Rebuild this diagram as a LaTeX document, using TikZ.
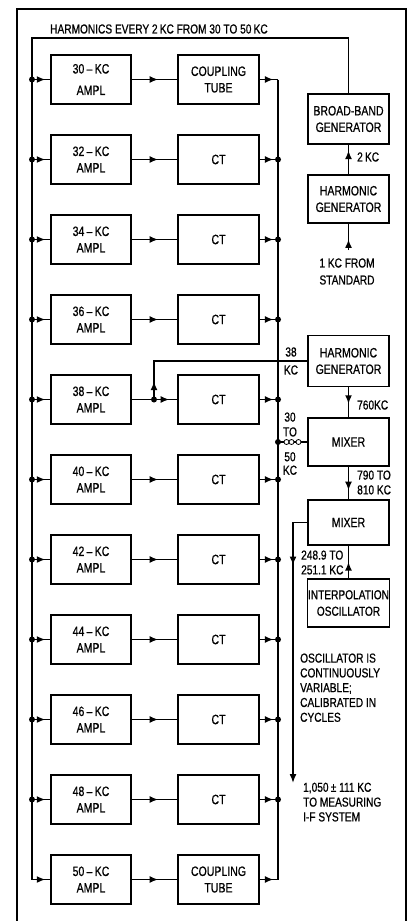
\documentclass[tikz,border=0pt]{standalone}
\usepackage{fontspec}
\newfontfamily\lbl[FakeStretch=0.78,FakeBold=0.7]{Liberation Sans}
\usetikzlibrary{arrows.meta,decorations.markings}
\begin{document}
\begin{tikzpicture}[x=1pt,y=-1pt,
  box/.style={draw,line width=1.1pt,minimum width=80pt,minimum height=49pt,inner sep=0pt,align=center,font=\lbl\fontsize{13.5}{16.5}\selectfont},
  wire/.style={line width=1.5pt},
  txt/.style={inner sep=0pt,align=left,font=\lbl\fontsize{13}{14.8}\selectfont},
  jdot/.style={circle,fill,inner sep=0pt,minimum size=6pt},
  swc/.style={circle,draw,fill=white,line width=0.8pt,inner sep=0pt,minimum size=5pt},
  tipat/.style={postaction={decorate},decoration={markings,mark=at position #1 with {\arrow{Latex[length=8.5pt,width=7pt]}}}},
]
\useasboundingbox (0,0) rectangle (414,921);
\fill[white] (0,0) rectangle (414,921);
\draw[line width=1.8pt] (17,921) -- (17,9) -- (406,9) -- (406,921);

\node[txt,anchor=west] (title) at (50,29) {HARMONICS EVERY 2\,KC FROM 30 TO 50\,KC};

% left and middle columns
\node[box] (amp1) at (91,79.5) {30\,–\,KC\\[5pt]AMPL};
\node[box,minimum width=81pt] (ct1) at (218.5,79.5) {COUPLING\\TUBE};
\foreach \i in {2,...,10}{
  \pgfmathtruncatemacro{\f}{28+2*\i}
  \pgfmathsetmacro{\yy}{79.5+80*(\i-1)}
  \node[box] (amp\i) at (91,\yy) {\f\,–\,KC\\AMPL};
  \node[box,minimum width=81pt] (ct\i) at (218.5,\yy) {CT};
}
\node[box] (amp11) at (91,879.5) {50\,–\,KC\\AMPL};
\node[box,minimum width=81pt] (ct11) at (218.5,879.5) {COUPLING\\TUBE};

\foreach \i in {1,...,11}{
  \pgfmathsetmacro{\yy}{79.5+80*(\i-1)}
  \coordinate (L\i) at (32,\yy);
  \coordinate (R\i) at (278,\yy);
}

% right column boxes
\node[box,minimum width=81pt,minimum height=50pt] (bbg) at (348.5,119) {BROAD-BAND\\GENERATOR};
\node[box,minimum width=81pt,minimum height=48pt] (hg1) at (348.5,199) {HARMONIC\\GENERATOR};
\node[box,minimum width=81pt,minimum height=51pt] (hg2) at (348.5,361) {HARMONIC\\GENERATOR};
\node[box,minimum width=81pt,minimum height=48pt] (mix1) at (348.5,442) {MIXER};
\node[box,minimum width=81pt,minimum height=45pt] (mix2) at (348.5,522.5) {MIXER};
\node[box,minimum width=82pt,minimum height=48pt,font=\lbl\fontsize{13}{16.5}\selectfont] (osc) at (348.5,603) {INTERPOLATION\\OSCILLATOR};

% harmonics bus
\coordinate (tl) at (32,38);
\coordinate (tr) at (348.5,38);
\draw[wire] (bbg.north) -- (tr) -- (tl) -- (L11);
\draw[wire,tipat=0.72] (L11) -- (amp11.west);
\foreach \i in {1,...,10}{
  \node[jdot] at (L\i) {};
  \draw[wire,tipat=0.72] (L\i) -- (amp\i.west);
}
\foreach \i in {1,2,3,4,6,7,8,9,10,11}{
  \draw[wire,tipat=0.58] (amp\i.east) -- (ct\i.west);
}
\foreach \i in {2,...,10}{
  \node[jdot] at (R\i) {};
}
\foreach \i in {1,...,11}{
  \draw[wire,tipat=0.75] (ct\i.east) -- (R\i);
}
\draw[wire] (R1) -- (R11);

% 38 kc takeoff
\node[jdot] (j38) at (154,399.5) {};
\coordinate (c38) at (154,361);
\draw[wire,tipat=0.82] (amp5.east) -- (ct5.west);
\draw[wire,tipat=18pt] (j38.center) -- (c38) -- (hg2.west);
\node[txt,align=center,font=\lbl\fontsize{13}{18}\selectfont] (l38) at (291,361) {38\\KC};

% standard chain
\coordinate (std) at (348.5,250);
\draw[wire,tipat=0.4] (std) -- (hg1.south);
\draw[wire,tipat=0.8] (hg1.north) -- (bbg.south);
\node[txt,anchor=west] (l2kc) at (357,157) {2\,KC};
\node[txt,align=center,font=\lbl\fontsize{13}{17}\selectfont] (lstd) at (347,271.5) {1 KC FROM\\STANDARD};

% mixers
\draw[wire,tipat=0.55] (hg2.south) -- (mix1.north);
\node[txt,anchor=west] (l760) at (357,405) {760KC};
\draw[wire,tipat=0.72] (mix1.south) -- (mix2.north);
\node[txt,anchor=west] (l790) at (357,482.5) {790 TO\\810 KC};
\draw[wire,tipat=0.5] (osc.north) -- (mix2.south);
\node[txt,anchor=west] (l249) at (301,562.5) {248.9 TO\\251.1 KC};

% switch
\node[jdot] (sw0) at (278,442) {};
\draw[wire] (sw0.center) -- (mix1.west);
\node[swc] (s1) at (286.5,442) {};
\node[swc] (s2) at (291.5,442) {};
\node[swc] (s3) at (298.5,442) {};
\node[txt,align=center] (l30) at (290,424.5) {30\\TO};
\node[txt,align=center,font=\lbl\fontsize{13}{13.5}\selectfont] (l50) at (290,463.5) {50\\KC};

% output
\coordinate (oc) at (293,522.5);
\coordinate (out) at (293,783);
\draw[wire,tipat=57pt,-{Latex[length=9pt,width=7pt]}] (mix2.west) -- (oc) -- (out);

\node[txt,anchor=north west] (losc) at (300,653.3) {OSCILLATOR IS\\CONTINUOUSLY\\VARIABLE;\\CALIBRATED IN\\CYCLES};
\node[txt,anchor=north west] (lout) at (303,782.5) {1,050\,± 111 KC\\TO MEASURING\\I-F SYSTEM};
\end{tikzpicture}
\end{document}
